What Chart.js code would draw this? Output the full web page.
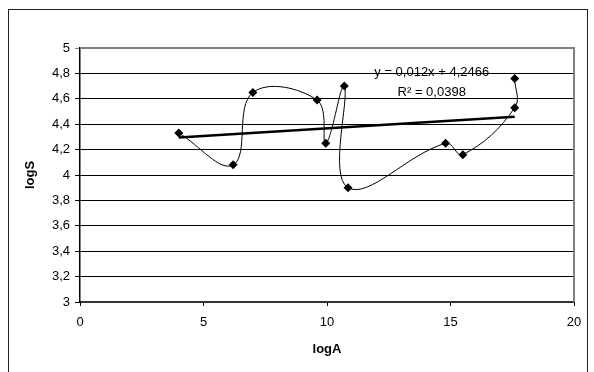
<!DOCTYPE html>
<html>
<head>
<meta charset="utf-8">
<script src="https://cdn.jsdelivr.net/npm/chart.js@4/dist/chart.umd.min.js"></script>
<style>
  html, body { margin: 0; padding: 0; background: #fff; overflow: hidden; }
  #wrap { position: relative; width: 594px; height: 372px; }
  #frame { position: absolute; left: 8px; top: 9px; width: 580px; height: 420px; border: 1.5px solid #222; box-sizing: border-box; }
  #grafico { position: absolute; left: 0; top: 0; }
</style>
</head>
<body>
<div id="wrap">
  <div id="frame"></div>
  <canvas id="grafico" width="594" height="372"></canvas>
</div>
<script>
// datos
const logA = [4.0, 6.2, 7.0, 9.6, 9.95, 10.7, 10.85, 14.8, 15.5, 17.6, 17.6];
const logS = [4.33, 4.08, 4.65, 4.59, 4.25, 4.70, 3.90, 4.25, 4.16, 4.53, 4.76];

// linea de tendencia
const pendiente = 0.012;
const intercepto = 4.2466;
const r2 = '0,0398';
const tendenciaX = [4.0, 17.6];

const yTicks = [3, 3.2, 3.4, 3.6, 3.8, 4, 4.2, 4.4, 4.6, 4.8, 5];
const xTicks = [0, 5, 10, 15, 20];

const fuente = "'Liberation Sans', Arial, sans-serif";

const puntos = logA.map((x, i) => ({ x: x, y: logS[i] }));
const tendencia = tendenciaX.map(x => ({ x: x, y: pendiente * x + intercepto }));

const coma = v => String(v).replace('.', ',');

// borde gris del area de trazado y texto de la ecuacion
const extras = {
    id: 'extras',
    beforeDatasetsDraw(chart) {
        const { ctx, chartArea } = chart;
        ctx.save();
        ctx.strokeStyle = '#808080';
        ctx.lineWidth = 2;
        ctx.beginPath();
        ctx.moveTo(chartArea.left, chartArea.top);
        ctx.lineTo(chartArea.right, chartArea.top);
        ctx.lineTo(chartArea.right, chartArea.bottom);
        ctx.stroke();
        ctx.restore();
    },
    afterDatasetsDraw(chart) {
        const { ctx, scales } = chart;
        const cx = scales.x.getPixelForValue(14.24);
        ctx.save();
        ctx.fillStyle = '#000';
        ctx.font = '13px ' + fuente;
        ctx.textAlign = 'center';
        ctx.textBaseline = 'middle';
        ctx.fillText('y = ' + coma(pendiente) + 'x + ' + coma(intercepto), cx, scales.y.getPixelForValue(4.804));
        ctx.fillText('R\u00B2 = ' + r2, cx, scales.y.getPixelForValue(4.65));
        ctx.restore();
    }
};

new Chart(document.getElementById('grafico'), {
    type: 'scatter',
    data: {
        datasets: [{
            label: 'logS',
            data: puntos,
            showLine: true,
            tension: 0.4,
            borderColor: '#000',
            borderWidth: 1,
            backgroundColor: '#000',
            pointStyle: 'rectRot',
            pointRadius: 4.5,
            pointBackgroundColor: '#000',
            pointBorderColor: '#000',
            pointBorderWidth: 0
        }, {
            label: 'tendencia',
            data: tendencia,
            showLine: true,
            tension: 0,
            borderColor: '#000',
            borderWidth: 2.5,
            pointRadius: 0
        }]
    },
    options: {
        responsive: false,
        animation: false,
        layout: { padding: { left: 8, top: 48, right: 20, bottom: 0 } },
        plugins: {
            legend: { display: false },
            tooltip: { enabled: false }
        },
        scales: {
            x: {
                type: 'linear',
                min: 0,
                max: 20,
                afterBuildTicks: s => { s.ticks = xTicks.map(v => ({ value: v })); },
                afterFit: s => { s.height = 70; },
                grid: { drawOnChartArea: false, drawTicks: true, tickLength: 4, color: '#000' },
                border: { color: '#333', width: 2 },
                ticks: { color: '#000', font: { family: fuente, size: 13 }, padding: 9, maxRotation: 0 },
                title: { display: true, text: 'logA', color: '#000', font: { family: fuente, size: 13, weight: 'bold' }, padding: { top: 0, bottom: 15 } }
            },
            y: {
                type: 'linear',
                min: 3,
                max: 5,
                afterBuildTicks: s => { s.ticks = yTicks.map(v => ({ value: v })); },
                afterFit: s => { s.width = 72; },
                grid: {
                    color: c => (c.tick && c.tick.value === 5 ? '#808080' : '#000'),
                    lineWidth: 1,
                    drawTicks: true,
                    tickLength: 5
                },
                border: { color: '#000', width: 1.5 },
                ticks: {
                    color: '#000',
                    font: { family: fuente, size: 13 },
                    padding: 5,
                    callback: v => coma(Number(v.toFixed(1)))
                },
                title: { display: true, text: 'logS', color: '#000', font: { family: fuente, size: 13, weight: 'bold' }, padding: { top: 15, bottom: 0 } }
            }
        }
    },
    plugins: [extras]
});
</script>
</body>
</html>
